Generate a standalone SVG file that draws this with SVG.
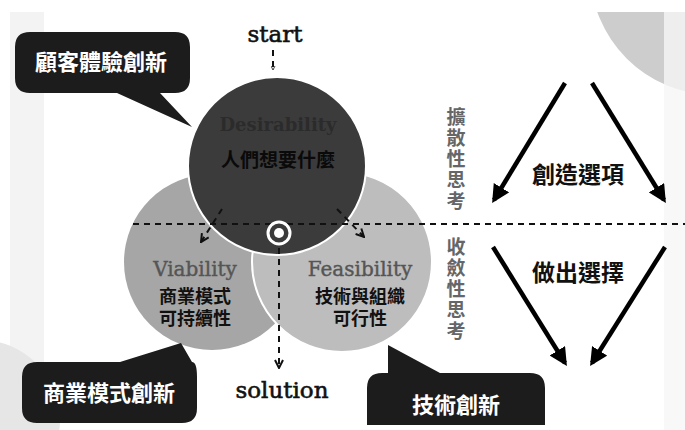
<svg xmlns="http://www.w3.org/2000/svg" width="685" height="430" viewBox="0 0 685 430">
<defs>
<style>
.serif{font-family:"DejaVu Serif","Liberation Serif",serif}
.cjk{font-family:"Noto Sans CJK TC","Noto Sans CJK SC",sans-serif;font-weight:bold}
.dash{fill:none;stroke:#111;stroke-width:2;stroke-dasharray:6,5}
.thick{fill:none;stroke:#000;stroke-width:4.5}
.bubble{fill:#1c1c1c}
.btxt{fill:#fff;font-size:22px;text-anchor:middle}
.vert{writing-mode:vertical-rl;font-size:19px;letter-spacing:2px;fill:#666}
.heavy{stroke:#111;stroke-width:0.6}
</style>
<marker id="sa" viewBox="0 0 10 10" refX="9" refY="5" markerWidth="5" markerHeight="5" orient="auto" markerUnits="userSpaceOnUse">
<path d="M1,1 L9,5 L1,9" fill="none" stroke="#111" stroke-width="1.6"/>
</marker>
<marker id="da" viewBox="0 0 10 10" refX="9" refY="5" markerWidth="10" markerHeight="10" orient="auto" markerUnits="userSpaceOnUse">
<path d="M1,1 L9,5 L1,9" fill="none" stroke="#111" stroke-width="2"/>
</marker>
<marker id="ta" viewBox="0 0 10 10" refX="8" refY="5" markerWidth="18" markerHeight="18" orient="auto" markerUnits="userSpaceOnUse">
<path d="M0,0 L10,5 L0,10 Z" fill="#000"/>
</marker>
<clipPath id="bg"><rect x="0" y="12" width="685" height="418"/></clipPath>
</defs>
<rect width="685" height="430" fill="#fff"/>
<g id="background" clip-path="url(#bg)">
<circle cx="715" cy="-30" r="125" fill="#cdcdcd"/>
<rect x="664" y="12" width="21" height="418" fill="#f6f6f6" opacity="0.8"/>
<rect x="10" y="12" width="34" height="418" fill="#f3f3f3"/>
<circle cx="-20" cy="420" r="80" fill="#e6e6e6"/>
</g>
<g id="viability">
<circle cx="212" cy="262" r="88" fill="#a6a6a6"/>
<text class="serif" x="195" y="276" font-size="20" fill="#555" stroke="#555" stroke-width="0.4" text-anchor="middle">Viability</text>
<text class="cjk" font-size="18" fill="#111" text-anchor="middle"><tspan x="195" y="303">商業模式</tspan><tspan x="195" y="325">可持續性</tspan></text>
</g>
<g id="feasibility">
<circle cx="342" cy="262" r="90" fill="#bdbdbd" stroke="#fff" stroke-width="2"/>
<text class="serif" x="360" y="276" font-size="20" fill="#555" stroke="#555" stroke-width="0.4" text-anchor="middle">Feasibility</text>
<text class="cjk" font-size="18" fill="#111" text-anchor="middle"><tspan x="360" y="303">技術與組織</tspan><tspan x="360" y="325">可行性</tspan></text>
</g>
<g id="desirability">
<circle cx="277" cy="166" r="89" fill="#3b3b3b" stroke="#fff" stroke-width="2"/>
<text class="serif" x="278" y="131" font-size="18" font-weight="bold" fill="#2b2b2b" text-anchor="middle">Desirability</text>
<text class="cjk" x="278" y="167" font-size="19" fill="#0a0a0a" text-anchor="middle">人們想要什麼</text>
</g>
<g id="connectors">
<line class="dash" x1="133" y1="224" x2="685" y2="224"/>
<line class="dash" x1="273" y1="50" x2="273" y2="70" stroke-width="1.5" stroke-dasharray="4,3" marker-end="url(#sa)"/>
<line class="dash" x1="222" y1="209" x2="201" y2="242" marker-end="url(#da)"/>
<line class="dash" x1="337" y1="209" x2="364" y2="237" marker-end="url(#da)"/>
<line class="dash" x1="279" y1="248" x2="279" y2="368" marker-end="url(#da)"/>
<line class="thick" x1="565" y1="83" x2="494" y2="200" marker-end="url(#ta)"/>
<line class="thick" x1="592" y1="83" x2="664" y2="200" marker-end="url(#ta)"/>
<line class="thick" x1="493" y1="247" x2="565" y2="363" marker-end="url(#ta)"/>
<line class="thick" x1="665" y1="247" x2="592" y2="363" marker-end="url(#ta)"/>
</g>
<g id="solution-point">
<circle cx="279" cy="233" r="11" fill="#3b3b3b" stroke="#fff" stroke-width="3"/>
<circle cx="279" cy="233" r="5" fill="#fff"/>
</g>
<g id="start">
<text class="serif heavy" x="275" y="42" font-size="23" fill="#111" text-anchor="middle">start</text>
</g>
<g id="solution">
<text class="serif heavy" x="282" y="398" font-size="23" fill="#111" text-anchor="middle">solution</text>
</g>
<g id="callout-customer">
<path class="bubble" d="M30,32 H175 Q190,32 190,47 V78 Q190,93 175,93 H160 L192,127 L117,93 H30 Q15,93 15,78 V47 Q15,32 30,32 Z"/>
<text class="cjk btxt" x="101" y="70">顧客體驗創新</text>
</g>
<g id="callout-business">
<path class="bubble" d="M37,362 H120 L181,343 L192,362 Q197,362 197,377 V408 Q197,423 182,423 H37 Q22,423 22,408 V377 Q22,362 37,362 Z"/>
<text class="cjk btxt" x="109" y="401">商業模式創新</text>
</g>
<g id="callout-tech">
<path class="bubble" d="M382,373 H388 L388,345 L440,373 H530 Q545,373 545,388 V425 H367 V388 Q367,373 382,373 Z"/>
<text class="cjk btxt" x="456" y="413">技術創新</text>
</g>
<g id="divergent">
<text class="cjk vert" x="456" y="107">擴散性思考</text>
<text class="cjk" x="578" y="183" font-size="23" fill="#111" text-anchor="middle">創造選項</text>
</g>
<g id="convergent">
<text class="cjk vert" x="456" y="237">收斂性思考</text>
<text class="cjk" x="578" y="281" font-size="23" fill="#111" text-anchor="middle">做出選擇</text>
</g>
</svg>
